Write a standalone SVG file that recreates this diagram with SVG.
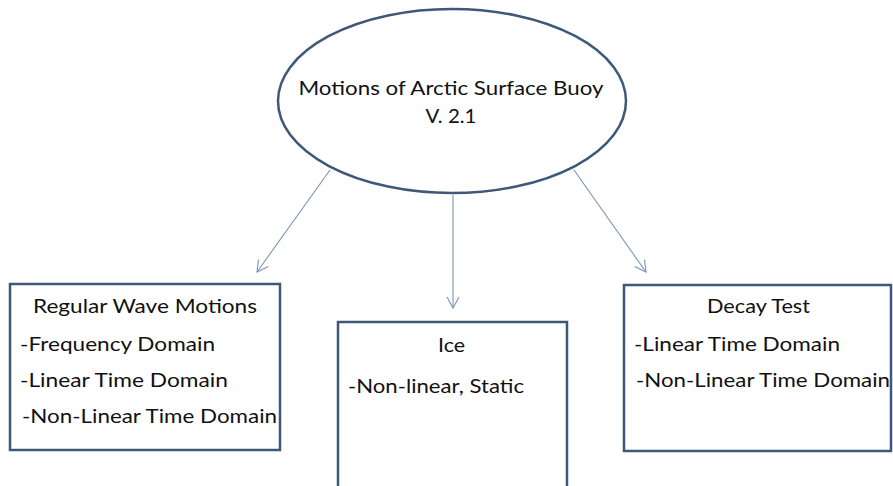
<svg xmlns="http://www.w3.org/2000/svg" width="893" height="486" viewBox="0 0 893 486">
<defs>
<style>
.node{fill:#ffffff;stroke:#3f5878;stroke-width:2.5}
.t{font-family:Lato,"Open Sans","Liberation Sans",sans-serif;font-size:20px;fill:#111111}
.c{stroke:#7b95b5;stroke-width:1.1;fill:none}
</style>
<marker id="arr" markerWidth="14" markerHeight="14" refX="12" refY="7" orient="auto" markerUnits="userSpaceOnUse">
<path d="M1,1 L12,7 L1,13" fill="none" stroke="#7b95b5" stroke-width="1.1"/>
</marker>
</defs>
<rect width="893" height="486" fill="#ffffff"/>
<g id="connectors">
<line class="c" x1="330" y1="170" x2="257" y2="272" marker-end="url(#arr)"/>
<line class="c" x1="453" y1="195" x2="453" y2="308" marker-end="url(#arr)"/>
<line class="c" x1="574" y1="170" x2="646" y2="272" marker-end="url(#arr)"/>
</g>
<g id="root">
<ellipse class="node" cx="452" cy="101" rx="174" ry="92"/>
<text class="t" x="451" y="95" text-anchor="middle" textLength="305" lengthAdjust="spacingAndGlyphs">Motions of Arctic Surface Buoy</text>
<text class="t" x="451" y="123" text-anchor="middle" textLength="51" lengthAdjust="spacingAndGlyphs">V. 2.1</text>
</g>
<g id="regular">
<rect class="node" x="10" y="284" width="270" height="166"/>
<text class="t" x="33" y="313" textLength="224" lengthAdjust="spacingAndGlyphs">Regular Wave Motions</text>
<text class="t" x="20" y="351" textLength="195" lengthAdjust="spacingAndGlyphs">-Frequency Domain</text>
<text class="t" x="20" y="387" textLength="208" lengthAdjust="spacingAndGlyphs">-Linear Time Domain</text>
<text class="t" x="22" y="423" textLength="255" lengthAdjust="spacingAndGlyphs">-Non-Linear Time Domain</text>
</g>
<g id="ice">
<rect class="node" x="338" y="322" width="229" height="170"/>
<text class="t" x="438" y="352" textLength="27" lengthAdjust="spacingAndGlyphs">Ice</text>
<text class="t" x="348" y="393" textLength="176" lengthAdjust="spacingAndGlyphs">-Non-linear, Static</text>
</g>
<g id="decay">
<rect class="node" x="624" y="285" width="267" height="166"/>
<text class="t" x="707" y="313" textLength="103" lengthAdjust="spacingAndGlyphs">Decay Test</text>
<text class="t" x="634" y="351" textLength="206" lengthAdjust="spacingAndGlyphs">-Linear Time Domain</text>
<text class="t" x="636" y="387" textLength="254" lengthAdjust="spacingAndGlyphs">-Non-Linear Time Domain</text>
</g>
</svg>
